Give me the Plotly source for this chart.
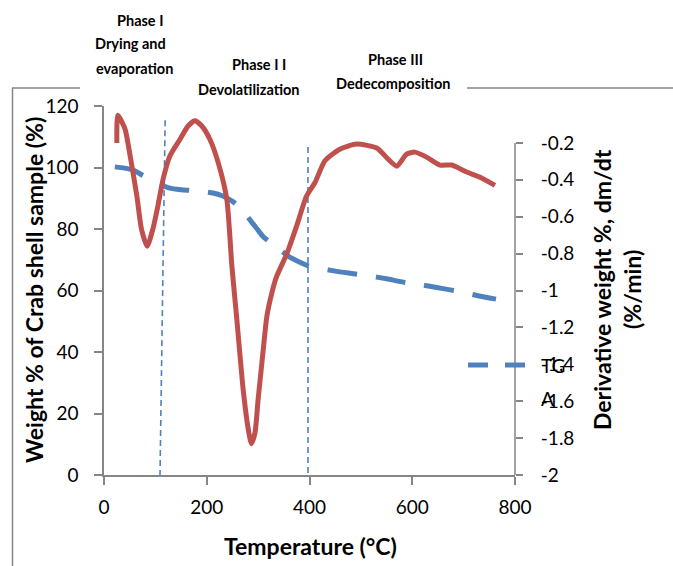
import plotly.graph_objects as go

# ---- data ----
tga_temp = [21, 40, 56, 75, 90, 110, 128, 150, 173, 195, 212, 230, 251, 270, 284, 298,
            310, 325, 343, 360, 378, 395, 417, 450, 479, 518, 550, 580, 619, 660, 693, 728, 763]
tga_weight = [100.2, 99.8, 99.2, 97.5, 96.3, 94.5, 93.3, 92.8, 92.5, 92.1, 91.7, 90.8, 88.9,
              86.0, 83.0, 80.0, 77.5, 75.5, 73.2, 71.0, 69.4, 68.2, 67.3, 66.3, 65.6, 64.7,
              63.8, 62.8, 61.8, 60.6, 59.6, 58.3, 57.2]

dtg_temp = [25, 27, 41, 51, 64, 73, 84, 95, 105, 115, 128, 148, 164, 177, 190, 206, 222, 239,
            249, 258, 271, 281, 287, 294, 300, 310, 317, 327, 336, 356, 375, 394, 411, 430,
            459, 492, 531, 553, 570, 589, 605, 628, 654, 677, 706, 732, 761]
dtg_rate = [-0.20, -0.05, -0.125, -0.272, -0.489, -0.668, -0.76, -0.668, -0.54, -0.397, -0.272,
            -0.18, -0.107, -0.08, -0.107, -0.18, -0.304, -0.505, -0.87, -1.14, -1.54, -1.755,
            -1.83, -1.77, -1.59, -1.32, -1.14, -1.01, -0.924, -0.80, -0.65, -0.489, -0.413,
            -0.297, -0.234, -0.206, -0.228, -0.288, -0.326, -0.261, -0.25, -0.277, -0.32,
            -0.32, -0.358, -0.386, -0.43]

x_ticks = [0, 200, 400, 600, 800]
y_ticks = [0, 20, 40, 60, 80, 100, 120]
y2_ticks = [-2, -1.8, -1.6, -1.4, -1.2, -1, -0.8, -0.6, -0.4, -0.2]
y2_labels = ["-2", "-1.8", "-1.6", "-1.4", "-1.2", "-1", "-0.8", "-0.6", "-0.4", "-0.2"]

phase_line1_x = [119, 109]
phase_line1_y = [115.4, 0]
phase_line2_x = [397, 397]
phase_line2_y = [106.7, 0]

RED = "#C0504D"
BLUE = "#4F81BD"
GRAY = "#868686"
FONT = "Lato"

fig = go.Figure()
fig.add_trace(go.Scatter(x=dtg_temp, y=dtg_rate, yaxis="y2", mode="lines",
                         line=dict(color=RED, width=5, shape="spline", smoothing=0.6),
                         showlegend=False, name="DTG", hoverinfo="skip"))
fig.add_trace(go.Scatter(x=tga_temp, y=tga_weight, mode="lines",
                         line=dict(color=BLUE, width=5, dash="30px,19px", shape="spline", smoothing=0.6),
                         showlegend=False, name="TGA", hoverinfo="skip"))

shapes = []
# phase boundary dashed lines
shapes.append(dict(type="line", xref="x", yref="y", x0=phase_line1_x[0], y0=phase_line1_y[0],
                   x1=phase_line1_x[1], y1=phase_line1_y[1],
                   line=dict(color=BLUE, width=1.6, dash="6px,4px"), layer="below"))
shapes.append(dict(type="line", xref="x", yref="y", x0=phase_line2_x[0], y0=phase_line2_y[0],
                   x1=phase_line2_x[1], y1=phase_line2_y[1],
                   line=dict(color=BLUE, width=1.6, dash="6px,4px"), layer="below"))
# right axis line only over tick range
shapes.append(dict(type="line", xref="paper", yref="y2", x0=1, x1=1, y0=-2, y1=-0.2,
                   line=dict(color=GRAY, width=1.5)))


def px2x(p):
    return (p - 104) / 411.0


def py2y(p):
    return (475 - p) / 369.0


# chart frame pieces
shapes.append(dict(type="line", xref="paper", yref="paper", x0=px2x(12.5), x1=px2x(12.5),
                   y0=py2y(88), y1=py2y(570), line=dict(color=GRAY, width=1.5)))
shapes.append(dict(type="line", xref="paper", yref="paper", x0=px2x(12), x1=px2x(80),
                   y0=py2y(88), y1=py2y(88), line=dict(color=GRAY, width=1.5)))
shapes.append(dict(type="line", xref="paper", yref="paper", x0=px2x(467), x1=px2x(680),
                   y0=py2y(88), y1=py2y(88), line=dict(color=GRAY, width=1.5)))
# legend sample
shapes.append(dict(type="line", xref="paper", yref="paper", x0=px2x(468), x1=px2x(526),
                   y0=py2y(365), y1=py2y(365), line=dict(color=BLUE, width=5, dash="20px,17px")))

annotations = []


def txt(t, cx, cy, size=14.5, bold=True, anchor="center", angle=0):
    annotations.append(dict(text=("<b>%s</b>" % t) if bold else t, xref="paper", yref="paper",
                            x=px2x(cx), y=py2y(cy), xanchor=anchor, yanchor="middle",
                            showarrow=False, textangle=angle,
                            font=dict(family=FONT, size=size, color="black")))


txt("Phase I", 140, 20)
txt("Drying and", 130, 44)
txt("evaporation", 134, 68)
txt("Phase I I", 259, 65)
txt("Devolatilization", 248, 89)
txt("Phase III", 395, 59)
txt("Dedecomposition", 393, 83)
txt("Temperature (°C)", 310, 546, size=23)
txt("Weight % of Crab shell sample (%)", 34, 290, size=23, angle=-90)
txt("Derivative weight %, dm/dt", 602, 290, size=23, angle=-90)
txt("(%/min)", 632, 290, size=23, angle=-90)
txt("TG", 539, 365, size=19, bold=False, anchor="left")
txt("A", 539, 398, size=19, bold=False, anchor="left")

fig.update_layout(
    width=673, height=566,
    margin=dict(l=104, r=158, t=106, b=91),
    paper_bgcolor="white", plot_bgcolor="white",
    font=dict(family=FONT, size=19, color="black"),
    xaxis=dict(range=[0, 800], tickvals=x_ticks, showgrid=False, zeroline=False,
               showline=True, linecolor=GRAY, linewidth=1.5, ticks="outside", ticklen=8,
               tickcolor=GRAY, tickwidth=1.5, tickfont=dict(size=19), ticklabelstandoff=6),
    yaxis=dict(range=[0, 120], tickvals=y_ticks, showgrid=False, zeroline=False,
               showline=True, linecolor=GRAY, linewidth=1.5, ticks="outside", ticklen=8,
               tickcolor=GRAY, tickwidth=1.5, tickfont=dict(size=19), ticklabelstandoff=12),
    yaxis2=dict(range=[-2, 0], tickvals=y2_ticks, ticktext=y2_labels, overlaying="y", side="right",
                showgrid=False, zeroline=False, showline=False, ticks="outside", ticklen=7,
                tickcolor=GRAY, tickwidth=1.5, tickfont=dict(size=19), ticklabelstandoff=14),
    shapes=shapes, annotations=annotations, showlegend=False,
)

fig.write_html("out.html", config={"displayModeBar": False},
               post_script="document.body.style.margin='0';document.body.style.overflow='hidden';")
